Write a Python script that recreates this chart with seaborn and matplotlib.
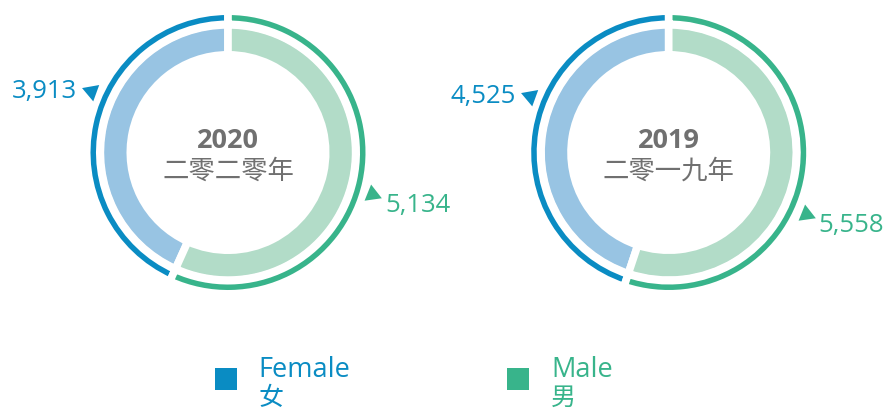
import numpy as np
import matplotlib.pyplot as plt
import seaborn as sns

# data
years = ['2020', '2019']
years_zh = ['二零二零年', '二零一九年']
female = [3913, 4525]
male = [5134, 5558]
legend_en = ['Female', 'Male']
legend_zh = ['女', '男']

# colours: outer thin ring / inner thick ring
dark = ['#0a8cc3', '#38b48b']
light = ['#98c4e3', '#b2dcc8']
gray = '#707070'

sns.set_theme(style='white')
plt.rcParams['font.family'] = ['Open Sans', 'Noto Sans CJK TC', 'DejaVu Sans']

W, H = 886, 410
fig = plt.figure(figsize=(W / 100, H / 100), dpi=100)
ax = fig.add_axes([0, 0, 1, 1])


def Y(y):
    # pixel row (from top) -> data y
    return H - y


centers = [(228, 153.5), (668.7, 153.5)]
gap_pt = 5.5
half = gap_pt * 100 / 72 / 2
outer_r, outer_w = 137.5, 5.5
inner_r, inner_w = 123.8, 22.3

# layout of the value markers (angle from +x, radius) and label offsets
f_ang = [156, 158]
m_ang = [-16, -24]
tri_r = 150

for i in range(len(years)):
    cx, cy = centers[i]
    vals = [female[i], male[i]]
    for cols, r, w in [(light, inner_r, inner_w), (dark, outer_r, outer_w)]:
        ax.pie(vals, colors=cols, startangle=90, counterclock=True,
               center=(cx, Y(cy)), radius=r + half, frame=True,
               wedgeprops=dict(width=w + 2 * half, edgecolor='white',
                               linewidth=gap_pt))

    # centre text
    ax.text(cx, Y(148.3), years[i], ha='center', va='baseline',
            fontsize=19.5, fontweight='bold', color=gray)
    ax.text(cx, Y(171), years_zh[i], ha='center', va='center',
            fontsize=19, color=gray, family=['Noto Sans CJK TC'])

    # female marker + label
    a = np.deg2rad(f_ang[i])
    tx, ty = cx + tri_r * np.cos(a), Y(cy) + tri_r * np.sin(a)
    ax.scatter([tx], [ty], marker=(3, 0, 190), s=210, color=dark[0],
               linewidths=0, zorder=5)
    ax.text(tx - 14, ty - 6, f'{female[i]:,}', ha='right', va='baseline',
            fontsize=18.5, color=dark[0])

    # male marker + label
    a = np.deg2rad(m_ang[i])
    tx, ty = cx + tri_r * np.cos(a), Y(cy) + tri_r * np.sin(a)
    ax.scatter([tx], [ty], marker=(3, 0, 8), s=210, color=dark[1],
               linewidths=0, zorder=5)
    ax.text(tx + 13, ty - 17, f'{male[i]:,}', ha='left', va='baseline',
            fontsize=18.5, color=dark[1])

# legend
leg_x = [225.5, 518.5]
for i in range(len(legend_en)):
    ax.scatter([leg_x[i]], [Y(379.5)], marker='s', s=250, color=dark[i],
               linewidths=0)
    ax.text(leg_x[i] + 32.5, Y(377), legend_en[i], ha='left', va='baseline',
            fontsize=19.5, color=dark[i])
    ax.text(leg_x[i] + 32.5, Y(398), legend_zh[i], ha='left', va='center',
            fontsize=18, color=dark[i], family=['Noto Sans CJK TC'])

ax.set_xlim(0, W)
ax.set_ylim(0, H)
ax.set_aspect('equal')
ax.axis('off')

fig.savefig('out.png', dpi=100)
